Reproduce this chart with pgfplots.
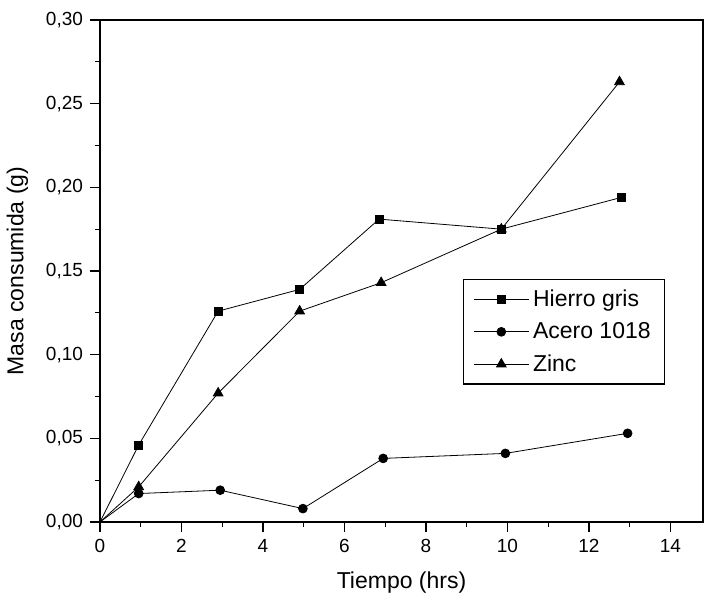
\documentclass[border=0pt]{standalone}
\usepackage{pgfplots}
\pgfplotsset{compat=1.18}
\usepackage{fontspec}
\setmainfont{Liberation Sans}

\begin{document}
\begin{tikzpicture}
\useasboundingbox (-50pt,-37.5pt) rectangle (303pt,261pt);
\begin{axis}[
  scale only axis,
  width=301.5pt, height=251pt,
  xmin=0, xmax=14.8,
  ymin=0, ymax=0.30,
  xtick={0,2,...,14},
  minor x tick num=1,
  ytick={0,0.05,...,0.31},
  minor y tick num=1,
  tick align=outside,
  xtick pos=bottom, ytick pos=left,
  major tick length=5pt, minor tick length=2.5pt,
  axis line style={line width=0.7pt},
  every tick/.style={black, line width=0.6pt},
  /pgf/number format/assume math mode=true,
  yticklabel style={/pgf/number format/.cd, use comma, fixed, fixed zerofill, precision=2},
  ticklabel style={font=\fontsize{9.5}{10}\selectfont},
  xlabel={Tiempo (hrs)},
  ylabel={Masa consumida (g)},
  label style={font=\fontsize{11.5}{13}\selectfont},
  xlabel style={yshift=-3pt},
  ylabel style={yshift=2pt},
  legend style={at={(rel axis cs:0.602,0.484)}, anchor=north west,
    draw=black, line width=0.6pt, font=\fontsize{11.5}{13}\selectfont,
    inner xsep=5pt, inner ysep=3pt, row sep=2.5pt},
  legend cell align=left,
  legend image code/.code={%
    \draw[mark repeat=2, mark phase=2, #1] plot coordinates {(0cm,0cm) (0.48cm,0cm) (0.96cm,0cm)};},
  every axis plot/.append style={black, line width=0.4pt},
]
% first segments from the origin, drawn without a mark at (0,0)
\addplot[forget plot] coordinates {(0,0) (0.95,0.046)};
\addplot[forget plot] coordinates {(0,0) (0.95,0.017)};
\addplot[forget plot] coordinates {(0,0) (0.95,0.021)};

\addplot[mark=square*, mark size=2pt] coordinates {
  (0.95,0.046) (2.9,0.126) (4.9,0.139) (6.85,0.181) (9.85,0.175) (12.8,0.194)};
\addlegendentry{Hierro gris}
\addplot[mark=*, mark size=2.2pt] coordinates {
  (0.95,0.017) (2.95,0.019) (4.98,0.008) (6.95,0.038) (9.95,0.041) (12.95,0.053)};
\addlegendentry{Acero 1018}
\addplot[mark=triangle*, mark size=2.8pt] coordinates {
  (0.95,0.021) (2.9,0.077) (4.9,0.126) (6.9,0.143) (9.85,0.175) (12.75,0.263)};
\addlegendentry{Zinc}
\end{axis}
\end{tikzpicture}
\end{document}
